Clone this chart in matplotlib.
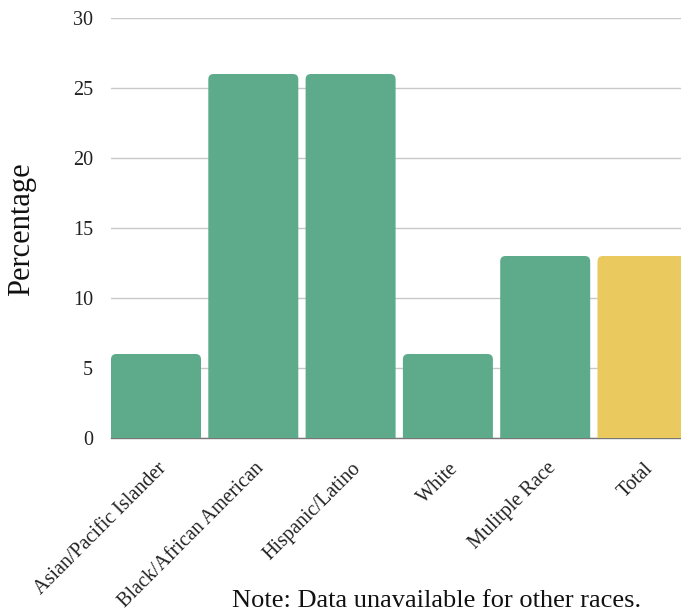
import matplotlib
matplotlib.use("Agg")
import matplotlib.pyplot as plt
import matplotlib.transforms as mtransforms
from matplotlib.patches import FancyBboxPatch

categories = ["Asian/Pacific Islander", "Black/African American", "Hispanic/Latino",
              "White", "Mulitple Race", "Total"]
values = [6, 26, 26, 6, 13, 13]
colors = ["#5eab8b", "#5eab8b", "#5eab8b", "#5eab8b", "#5eab8b", "#eac95e"]
yticks = [0, 5, 10, 15, 20, 25, 30]

plt.rcParams['font.family'] = ['Liberation Serif', 'DejaVu Serif']

W, H = 681, 613
fig = plt.figure(figsize=(W / 100, H / 100), dpi=100)
ax_left, ax_bottom = 111 / W, (H - 438) / H
ax = fig.add_axes([ax_left, ax_bottom, (W - 111) / W, 420 / H])

slot_px = 97.3
bw = 0.925
x = list(range(len(categories)))
bars = ax.bar(x, values, width=bw, color=colors, alpha=0)

ax.set_ylim(0, 30)
ax.set_xlim(-bw / 2, -bw / 2 + (W - 111) / slot_px)

# rounded-top bars from the bar geometry
aspect = slot_px / 14.0
r = 0.055
for b, c in zip(bars, colors):
    x0, w, h = b.get_x(), b.get_width(), b.get_height()
    p = FancyBboxPatch((x0, -2), w, h + 2,
                       boxstyle=f"round,pad=0,rounding_size={r}",
                       mutation_aspect=aspect, fc=c, ec="none", zorder=2)
    ax.add_patch(p)

ax.set_yticks(yticks)
ax.yaxis.grid(True, color="#c8c8c8", linewidth=1)
ax.set_axisbelow(True)
for s in ["top", "right", "left"]:
    ax.spines[s].set_visible(False)
ax.spines["bottom"].set_color("#777777")
ax.spines["bottom"].set_linewidth(1)
ax.spines["bottom"].set_zorder(1)
ax.tick_params(axis="both", length=0, labelsize=14.5, colors="#222222")
ax.tick_params(axis="y", pad=13)
ax.set_xticks(x)
ax.set_xticklabels(categories, rotation=45, ha="right", rotation_mode="anchor",
                   fontsize=14.5)
offset = mtransforms.ScaledTranslation(1 / 100, -16 / 100, fig.dpi_scale_trans)
for lbl in ax.get_xticklabels():
    lbl.set_transform(lbl.get_transform() + offset)

fig.text(22 / W, 1 - 229 / H, "Percentage", rotation=90, ha="center", va="center",
         fontsize=22, color="#111111")
fig.text(641 / W, 1 - 601 / H, "Note: Data unavailable for other races.",
         ha="right", va="center", fontsize=19, color="#111111")

fig.savefig("out.png", dpi=100)
